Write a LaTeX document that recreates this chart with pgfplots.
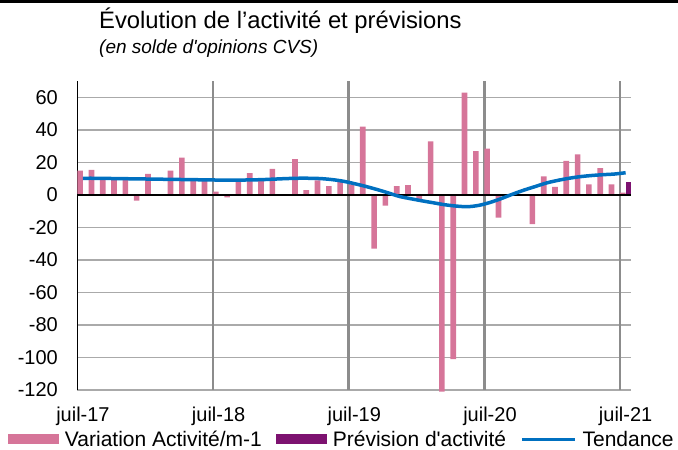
\documentclass[border=0pt]{standalone}
\usepackage{fontspec}
\setmainfont{Liberation Sans}[Ligatures=TeXOff]
\usepackage{pgfplots}
\pgfplotsset{compat=1.18}
\definecolor{pinkc}{RGB}{214,117,153}
\definecolor{purpc}{RGB}{125,18,112}
\definecolor{bluec}{RGB}{0,112,192}
\definecolor{gridc}{RGB}{170,170,170}
\definecolor{vgridc}{RGB}{140,140,140}
\begin{document}
\begin{tikzpicture}[x=1pt,y=1pt]
\useasboundingbox (0,0) rectangle (678,450);
\fill[black] (0,446.5) rectangle (678,450);
\node[anchor=base west, inner sep=0pt, font=\fontsize{23.8}{28}\selectfont] at (99,421) {Évolution de l’activité et prévisions};
\node[anchor=base west, inner sep=0pt, font=\fontsize{19}{23}\selectfont\itshape] at (99,396) {(en solde d'opinions CVS)};
\begin{axis}[
  at={(77.3pt,60pt)}, anchor=south west,
  scale only axis, width=554pt, height=308.75pt,
  xmin=0, xmax=49, ymin=-120, ymax=70,
  axis lines=left, axis line style={-},
  x axis line style={draw=gridc, line width=1.6pt},
  y axis line style={draw=black, line width=1.3pt},
  major tick length=0pt,
  ytick={-120,-100,-80,-60,-40,-20,0,20,40,60},
  yticklabels={-120,-100,-80,-60,-40,-20,0,20,40,60},
  xtick={0.5,12.5,24.5,36.5,48.5},
  xticklabels={juil-17,juil-18,juil-19,juil-20,juil-21},
  extra x ticks={12,24,36,48}, extra x tick labels={},
  extra x tick style={grid=major, major grid style={draw=vgridc, line width=2.4pt}},
  ymajorgrids, major grid style={draw=gridc, line width=1.6pt},
  ticklabel style={font=\fontsize{20}{24}\selectfont},
  yticklabel style={anchor=east, inner sep=0pt, xshift=-19.3pt},
  xticklabel style={anchor=north, inner sep=0pt, yshift=-17pt},
  clip=false,
  legend style={draw=none, fill=none, inner sep=0pt, outer sep=0pt,
    at={(axis description cs:-0.1251,-0.160)}, anchor=west,
    font=\fontsize{21}{25}\selectfont, legend columns=3,
    nodes={inner sep=0pt},
    /tikz/every odd column/.append style={column sep=6pt},
    /tikz/every even column/.append style={column sep=14pt}},
  legend cell align=left,
]
\addplot[ybar, bar width=5.65pt, bar shift=0pt, fill=pinkc, draw=none,
  legend image code/.code={\fill[pinkc] (0pt,-5pt) rectangle (51pt,5pt);}]
coordinates {
(0.25,15) (1.25,15.5) (2.25,10) (3.25,10) (4.25,10) (5.25,-3.5) (6.25,13)
(8.25,15) (9.25,23) (10.25,10) (11.25,10) (12.25,2) (13.25,-1.5) (14.25,8)
(15.25,13.5) (16.25,8.5) (17.25,16) (19.25,22) (20.25,3) (21.25,9) (22.25,5.5)
(23.25,8) (24.25,6.5) (25.25,42) (26.25,-33) (27.25,-6.5) (28.25,5.5) (29.25,6)
(30.25,-3) (31.25,33) (32.25,-121) (33.25,-101) (34.25,63) (35.25,27) (36.25,28.5)
(37.25,-14) (40.25,-18) (41.25,11.5) (42.25,5) (43.25,21) (44.25,25) (45.25,6.5)
(46.25,16.5) (47.25,6.5) (48.25,1.5)
};
\addlegendentry{Variation Activité/m-1}
\addplot[ybar, bar width=5.65pt, bar shift=0pt, fill=purpc, draw=none,
  legend image code/.code={\fill[purpc] (0pt,-5pt) rectangle (51pt,5pt);}]
coordinates {(48.75,8)};
\addlegendentry{Prévision d'activité}
\addplot[black, line width=1.3pt, forget plot] coordinates {(0,0) (49,0)};
\addplot[bluec, line width=3.5pt, smooth,
  legend image code/.code={\draw[bluec, line width=3.5pt] (0pt,0pt) -- (53pt,0pt);}]
coordinates {
(0.5,10.3) (1.5,10.3) (2.5,10.2) (3.5,10.1) (4.5,10.0) (5.5,9.9) (6.5,9.8)
(7.5,9.7) (8.5,9.6) (9.5,9.5) (10.5,9.4) (11.5,9.3) (12.5,9.2) (13.5,9.2)
(14.5,9.2) (15.5,9.3) (16.5,9.5) (17.5,9.8) (18.5,10.1) (19.5,10.3) (20.5,10.3)
(21.5,10.1) (22.5,9.5) (23.5,8.5) (24.5,7.0) (25.5,5.3) (26.5,3.4) (27.5,1.3)
(28.5,-0.9) (29.5,-2.3) (30.5,-3.6) (31.5,-4.8) (32.5,-6.0) (33.5,-6.8)
(34.5,-7.2) (35.5,-6.4) (36.5,-4.6) (37.5,-2.2) (38.5,0.5) (39.5,3.0)
(40.5,5.2) (41.5,7.4) (42.5,9.0) (43.5,10.3) (44.5,11.3) (45.5,12.0)
(46.5,12.5) (47.5,12.9) (48.5,13.7)
};
\addlegendentry{Tendance}
\end{axis}
\end{tikzpicture}
\end{document}
